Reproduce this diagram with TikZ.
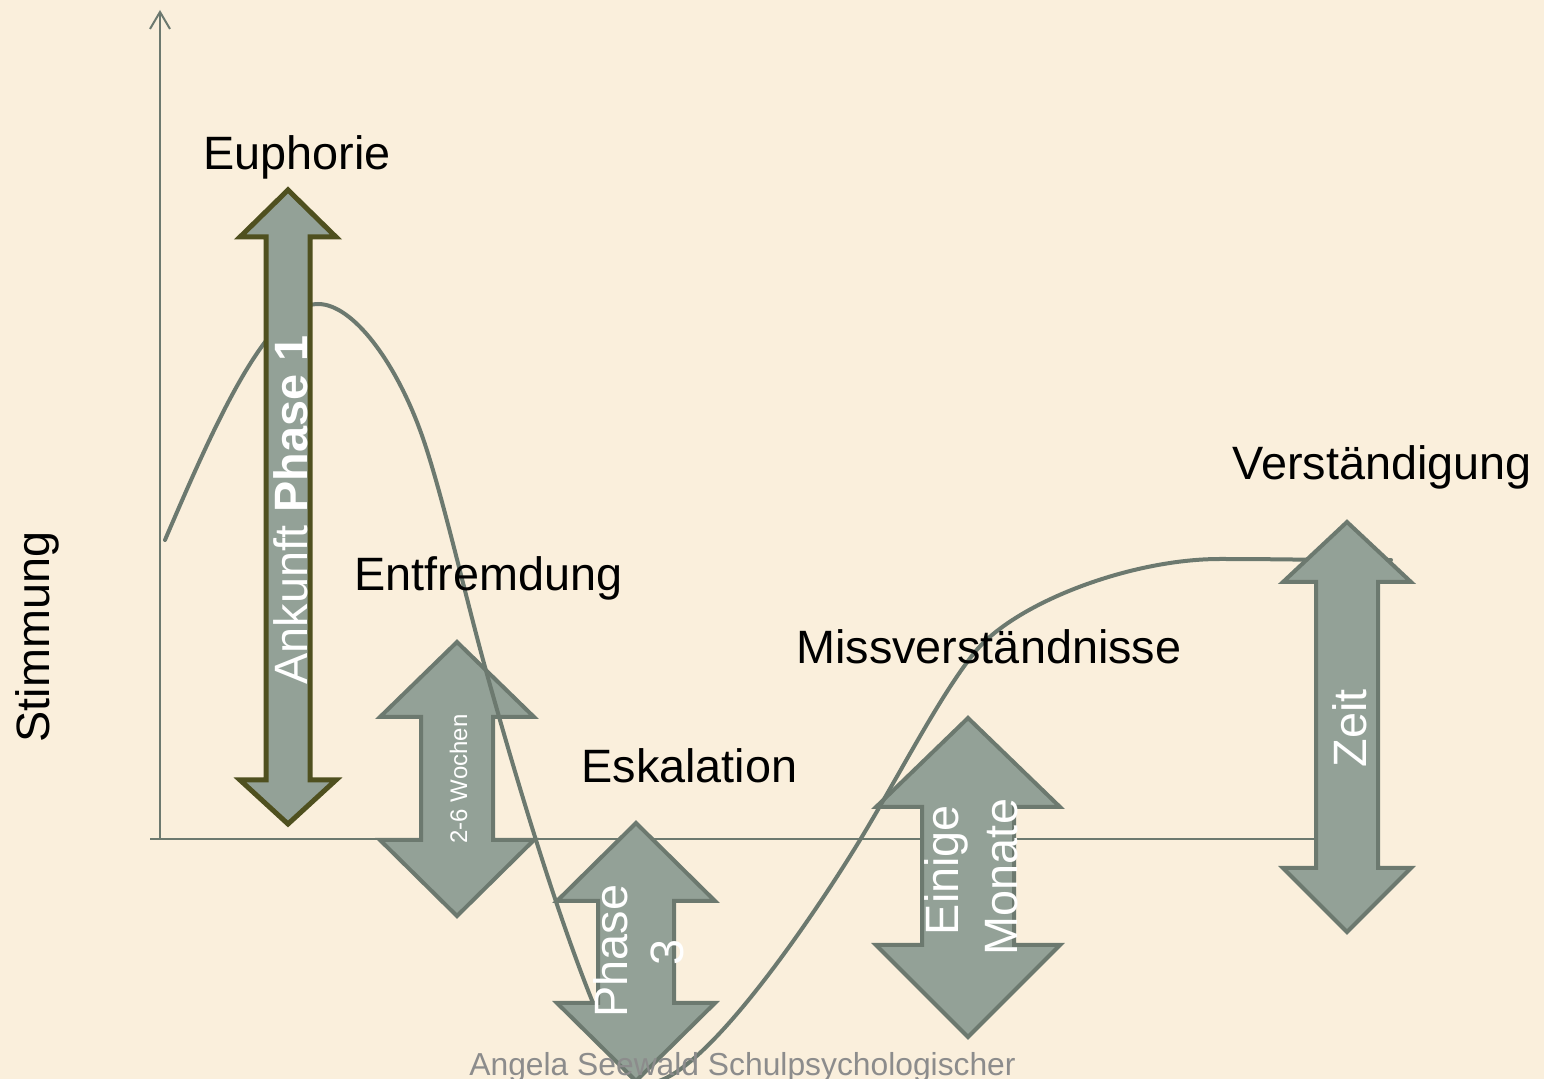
\documentclass[tikz,border=0pt]{standalone}
\usepackage{fontspec}
\setmainfont{Liberation Sans}
\usetikzlibrary{arrows.meta}
\definecolor{bgc}{HTML}{FAEFDC}
\definecolor{afill}{HTML}{93A197}
\definecolor{aline}{HTML}{6C796F}
\definecolor{olivec}{HTML}{4F501F}
\definecolor{footc}{HTML}{8C8C8C}
% #1 style, #2 cx, #3 top tip, #4 top base, #5 bottom base, #6 bottom tip, #7 head half width, #8 shaft half width
\newcommand\dblarr[8]{%
  \draw[#1] (#2,#3) -- (#2+#7,#4) -- (#2+#8,#4) -- (#2+#8,#5) -- (#2+#7,#5) -- (#2,#6)
     -- (#2-#7,#5) -- (#2-#8,#5) -- (#2-#8,#4) -- (#2-#7,#4) -- cycle;}
\begin{document}
\begin{tikzpicture}[x=0.5pt,y=-0.5pt,
  bigarrow/.style={fill=afill,draw=aline,line width=2pt,line join=miter},
  axisline/.style={draw=aline,line width=1pt},
  moodcurve/.style={draw=aline,line width=2pt,line cap=round},
  lbl/.style={font=\fontsize{23.4}{28}\selectfont,anchor=base west,inner sep=0pt},
  inlbl/.style={text=white,font=\fontsize{23.4}{28}\selectfont,rotate=90,anchor=base,inner sep=0pt},
]
\fill[bgc] (0,0) rectangle (1544,1079);
\useasboundingbox (0,0) rectangle (1544,1079);

% axes
\coordinate (orig) at (160,839);
\coordinate (xstart) at (150,839);
\coordinate (xend) at (1340,839);
\coordinate (ytop) at (160,10);
\draw[axisline] (xstart) -- (xend);
\draw[axisline,-{Straight Barb[length=8.5pt,width=10pt]}] (orig) -- (ytop);

% arrows below the curve
\dblarr{bigarrow}{457}{642}{717}{840}{916}{77}{36}
\dblarr{bigarrow}{968}{718}{807}{945}{1037}{92}{46}

% mood curve
\coordinate (c0) at (165,540);
\coordinate (c1) at (318,304);
\coordinate (c2) at (420,430);
\coordinate (c3) at (485,667);
\coordinate (c4) at (593,1003);
\coordinate (c5) at (648,1083);
\coordinate (c6) at (860,840);
\coordinate (c7) at (975,652);
\coordinate (c8) at (1220,559);
\coordinate (c9) at (1391,560);
\draw[moodcurve] (c0) .. controls (215,423) and (268,304) .. (c1)
  .. controls (353,304) and (395,362) .. (c2)
  .. controls (440,484) and (465,595) .. (c3)
  .. controls (520,793) and (558,916) .. (c4)
  .. controls (613,1053) and (625,1083) .. (c5)
  .. controls (700,1083) and (810,922) .. (c6)
  .. controls (900,774) and (940,695) .. (c7)
  .. controls (1015,603) and (1130,559) .. (c8)
  .. controls (1300,559) and (1350,561) .. (c9);

% arrows above the curve
\dblarr{bigarrow,draw=olivec,line width=2.5pt}{288}{190}{237}{780}{824}{48}{22}
\dblarr{bigarrow}{636}{823}{901}{1003}{1081}{79}{38}
\dblarr{bigarrow}{1347}{522}{582}{868}{932}{64}{31}

% labels
\node[lbl] (euph) at (203,170) {Euphorie};
\node[lbl] (entf) at (354,591) {Entfremdung};
\node[lbl] (esk) at (581,783) {Eskalation};
\node[lbl] (miss) at (796,664) {Missverständnisse};
\node[lbl] (verst) at (1232,480) {Verständigung};
\node[font=\fontsize{23.4}{28}\selectfont,rotate=90,anchor=base,inner sep=0pt] (stim) at (49,637) {Stimmung};

% labels inside arrows
\node[inlbl] (ank) at (307,510) {Ankunft \textbf{Phase 1}};
\node[inlbl,font=\fontsize{12}{14}\selectfont] (woch) at (467,779) {2-6 Wochen};
\node[inlbl] (ph3a) at (627,951) {Phase};
\node[inlbl] (ph3b) at (683,952) {3};
\node[inlbl] (ein) at (958,870) {Einige};
\node[inlbl] (mon) at (1017,877) {Monate};
\node[inlbl] (zeit) at (1366,728) {Zeit};

% footer
\node[anchor=base west,inner sep=0pt,text=footc,font=\fontsize{15.9}{19}\selectfont] (foot) at (469,1075) {Angela Seewald Schulpsychologischer};
\end{tikzpicture}
\end{document}
